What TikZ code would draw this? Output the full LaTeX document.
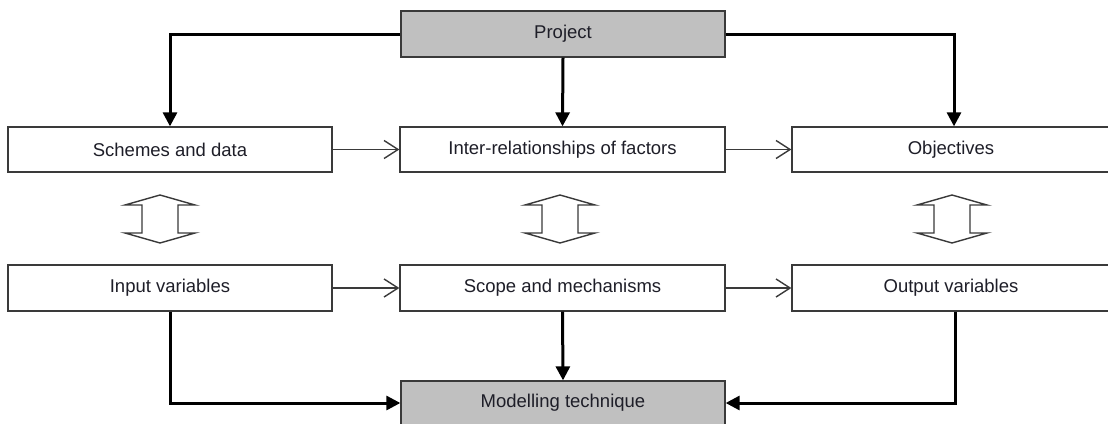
\documentclass[tikz,border=0pt]{standalone}
\usepackage{fontspec}
\setmainfont{Liberation Sans}
\usetikzlibrary{arrows.meta}
\definecolor{boxgray}{HTML}{C0C0C0}
\definecolor{edge}{HTML}{3A3A3A}
\definecolor{ink}{HTML}{1E1E28}
\tikzset{
  blockbox/.style={draw=edge, line width=1.3pt, fill=white, inner sep=0pt,
    text=ink, font=\fontsize{18.5}{20}\selectfont},
  greybox/.style={blockbox, fill=boxgray},
  heavy/.style={line width=3pt, black, -{Triangle[length=14pt,width=14pt]}},
  light/.style={line width=1.4pt, edge, -{Straight Barb[length=14pt,width=18pt,line width=1.4pt]}},
  updown/.pic={
    \draw[line width=1.4pt, gray!45!black, line join=miter]
      (-35,-14) -- (0,-24) -- (35,-14) -- (18,-14) -- (18,14) -- (35,14)
      -- (0,24) -- (-35,14) -- (-18,14) -- (-18,-14) -- cycle;
  }
}
\begin{document}
\begin{tikzpicture}[x=1pt, y=-1pt]
  \clip (0,0) rectangle (1108,423);
  \useasboundingbox (0,0) rectangle (1108,423);

  % boxes
  \node[greybox, minimum width=324pt, minimum height=46pt] (project) at (563,34) {Project};
  \node[blockbox, minimum width=324pt, minimum height=45pt] (schemes) at (170,149.5) {Schemes and data};
  \node[blockbox, minimum width=325pt, minimum height=45pt] (inter) at (562.5,149.5) {Inter-relationships of factors};
  \node[blockbox, minimum width=318pt, minimum height=45pt] (objectives) at (951,149.5) {Objectives};
  \node[blockbox, minimum width=324pt, minimum height=46pt] (input) at (170,288) {Input variables};
  \node[blockbox, minimum width=325pt, minimum height=46pt] (scope) at (562.5,288) {Scope and mechanisms};
  \node[blockbox, minimum width=318pt, minimum height=46pt] (output) at (951,288) {Output variables};
  \node[greybox, minimum width=324pt, minimum height=44pt] (model) at (563,403) {Modelling technique};

  % project feeds the upper row
  \draw[heavy] (project.west) -| (schemes.north);
  \draw[heavy] (project.south) -- (inter.north);
  \draw[heavy] (project.east) -| ([xshift=3pt]objectives.north);

  % flow along the rows
  \draw[light] (schemes.east) -- (inter.west);
  \draw[light] (inter.east) -- (objectives.west);
  \draw[light] (input.east) -- (scope.west);
  \draw[light] (scope.east) -- (output.west);

  % two-way links between the rows
  \pic at (160,219) {updown};
  \pic at (560,219) {updown};
  \pic at (952,219) {updown};

  % lower row feeds the modelling technique
  \draw[heavy] (input.south) |- (model.west);
  \draw[heavy] (scope.south) -- (model.north);
  \draw[heavy] ([xshift=4pt]output.south) |- (model.east);
\end{tikzpicture}
\end{document}
